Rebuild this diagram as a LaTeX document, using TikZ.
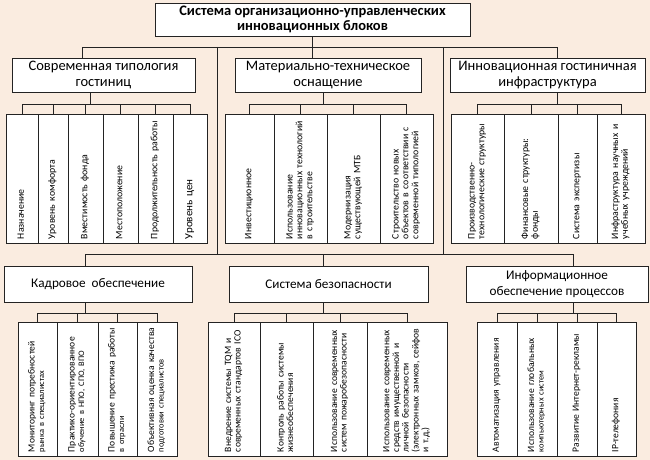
\documentclass[tikz,border=0pt]{standalone}
\usepackage{fontspec}
\setmainfont{Carlito}
\definecolor{bg}{RGB}{250,236,224}
\definecolor{linec}{RGB}{35,35,35}
\newcommand{\leaffont}{\fontsize{9.8}{9.8}\selectfont}
\newcommand{\botleaffont}{\fontsize{9.6}{9.6}\selectfont}
\newcommand{\smallleaf}{\fontsize{8.4}{9}\selectfont}
\newcommand{\leaftxt}[1]{\begin{tabular}{@{}l@{}}#1\end{tabular}}
\begin{document}
\begin{tikzpicture}[x=1pt,y=-1pt,
  conn/.style={draw=linec, line width=0.9pt},
  box/.style={draw=linec, fill=white, line width=0.9pt, align=center, inner sep=0pt, font=\fontsize{14.5}{16}\selectfont},
  lowbox/.style={box, font=\fontsize{13.2}{15.5}\selectfont},
  mainbox/.style={box, font=\bfseries\fontsize{14.5}{15.5}\selectfont},
  leaf/.style={draw=linec, fill=white, line width=0.9pt, rotate=90, inner xsep=0pt, inner ysep=1pt, align=left, font=\leaffont},
  topleaf/.style={leaf, minimum width=129pt, text width=121pt},
  botleaf/.style={leaf, minimum width=134pt, text width=126pt, font=\botleaffont}]
\fill[bg] (0,0) rectangle (650,460);
\useasboundingbox (0,0) rectangle (650,460);

\node[mainbox, minimum width=315pt, minimum height=33pt] (top) at (312.5,19.5) {Система организационно-управленческих\\инновационных блоков};

\node[box, minimum width=183pt, minimum height=34pt] (g1) at (103.5,75) {Современная типология\\гостиниц};
\node[box, minimum width=186pt, minimum height=34pt] (g2) at (328,75) {Материально-техническое\\оснащение};
\node[box, minimum width=195pt, minimum height=34pt] (g3) at (547.5,75) {Инновационная гостиничная\\инфраструктура};

\node[topleaf, minimum height=32pt] (l11) at (22,178.5) {\leaftxt{Назначение}};
\node[topleaf, minimum height=30pt] (l12) at (53,178.5) {\leaftxt{Уровень комфорта}};
\node[topleaf, minimum height=35pt] (l13) at (85.5,178.5) {\leaftxt{Вместимость фонда}};
\node[topleaf, minimum height=35pt] (l14) at (120.5,178.5) {\leaftxt{Местоположение}};
\node[topleaf, minimum height=35pt] (l15) at (155.5,178.5) {\leaftxt{Продолжительность работы}};
\node[topleaf, minimum height=34pt, font=\fontsize{11}{11.5}\selectfont] (l16) at (190,178.5) {\leaftxt{Уровень цен}};

\node[topleaf, minimum height=49pt] (l21) at (249.5,178.5) {\leaftxt{Инвестиционное}};
\node[topleaf, minimum height=53pt] (l22) at (300.5,178.5) {\leaftxt{Использование\\инновационных технологий\\в строительстве}};
\node[topleaf, minimum height=53pt] (l23) at (353.5,178.5) {\leaftxt{Модернизация\\существующей МТБ}};
\node[topleaf, minimum height=53pt] (l24) at (406.5,178.5) {\leaftxt{Строительство новых\\объектов в соответствии с\\современной типологией}};

\node[topleaf, minimum height=53pt] (l31) at (477.5,178.5) {\leaftxt{Производственно-\\технологические структуры}};
\node[topleaf, minimum height=54pt] (l32) at (531,178.5) {\leaftxt{Финансовые структуры:\\фонды}};
\node[topleaf, minimum height=39pt] (l33) at (577.5,178.5) {\leaftxt{Система экспертизы}};
\node[topleaf, minimum height=48pt] (l34) at (621,178.5) {\leaftxt{Инфраструктура научных и\\учебных учреждений}};

\node[lowbox, minimum width=188pt, minimum height=36pt] (g4) at (98,284) {Кадровое\ \ обеспечение};
\node[lowbox, minimum width=199pt, minimum height=36pt] (g5) at (328.5,284) {Система безопасности};
\node[lowbox, minimum width=182pt, minimum height=36pt] (g6) at (557,284) {Информационное\\обеспечение процессов};

\node[botleaf, minimum height=39pt] (l41) at (37.5,389) {\leaftxt{Мониторинг потребностей\\{\smallleaf рынка в специалистах}}};
\node[botleaf, minimum height=41pt] (l42) at (77.5,389) {\leaftxt{Практико-ориентированное\\{\smallleaf обучение в НПО, СПО, ВПО}}};
\node[botleaf, minimum height=39pt] (l43) at (117.5,389) {\leaftxt{Повышение престижа работы\\{\smallleaf в отрасли}}};
\node[botleaf, minimum height=40pt] (l44) at (157,389) {\leaftxt{Объективная оценка качества\\{\smallleaf подготовки специалистов}}};

\node[botleaf, minimum height=52pt] (l51) at (234,389) {\leaftxt{Внедрение системы TQM и\\современных стандартов ICO}};
\node[botleaf, minimum height=53pt] (l52) at (286.5,389) {\leaftxt{Контроль работы системы\\жизнеобеспечения}};
\node[botleaf, minimum height=54pt] (l53) at (340,389) {\leaftxt{Использование современных\\систем пожаробезопасности}};
\node[botleaf, minimum height=80pt] (l54) at (407,389) {\leaftxt{Использование современных\\средств имущественной и\\личной безопасности\\(электронных замков, сейфов\\и т.д.)}};

\node[botleaf, minimum height=40pt] (l61) at (497,389) {\leaftxt{Автоматизация управления}};
\node[botleaf, minimum height=40pt] (l62) at (537,389) {\leaftxt{Использование глобальных\\{\smallleaf компьютерных систем}}};
\node[botleaf, minimum height=40pt] (l63) at (577,389) {\leaftxt{Развитие Интернет-рекламы}};
\node[botleaf, minimum height=39pt] (l64) at (616.5,389) {\leaftxt{IP-телефония}};

% top level connectors
\coordinate (tb1) at (82,47);
\coordinate (tb2) at (557,47);
\draw[conn] (top.south) -- (top.south |- g2.north);
\draw[conn] (tb1 |- g1.north) -- (tb1) -- (tb2) -- (tb2 |- g3.north);
\coordinate (v1t) at (217,47);
\coordinate (v1b) at (217,254);
\coordinate (v2t) at (443,47);
\coordinate (v2b) at (443,254);
\draw[conn] (v1t) -- (v1b);
\draw[conn] (v2t) -- (v2b);
\coordinate (bb1) at (85,254);
\coordinate (bb2) at (323,254);
\coordinate (bb3) at (573,254);
\draw[conn] (bb1 |- g4.north) -- (bb1) -- (bb3) -- (bb3 |- g6.north);
\draw[conn] (bb2) -- (bb2 |- g5.north);

% leaf buses
\coordinate (s1) at (90,104);
\coordinate (s2) at (323,104);
\coordinate (s3) at (557,104);
\coordinate (s4) at (85,313);
\coordinate (s5) at (323,313);
\coordinate (s6) at (573,313);
\draw[conn] (s1 |- g1.south) -- (s1);
\draw[conn] (s2 |- g2.south) -- (s2);
\draw[conn] (s3 |- g3.south) -- (s3);
\draw[conn] (s4 |- g4.south) -- (s4);
\draw[conn] (s5 |- g5.south) -- (s5);
\draw[conn] (s6 |- g6.south) -- (s6);
\foreach \l in {l11,l12,l13,l14,l15,l16} \draw[conn] (\l.east) |- (s1);
\foreach \l in {l21,l22,l23,l24} \draw[conn] (\l.east) |- (s2);
\foreach \l in {l31,l32,l33,l34} \draw[conn] (\l.east) |- (s3);
\foreach \l in {l41,l42,l43,l44} \draw[conn] (\l.east) |- (s4);
\foreach \l in {l51,l52,l53,l54} \draw[conn] (\l.east) |- (s5);
\foreach \l in {l61,l62,l63,l64} \draw[conn] (\l.east) |- (s6);
\end{tikzpicture}
\end{document}
